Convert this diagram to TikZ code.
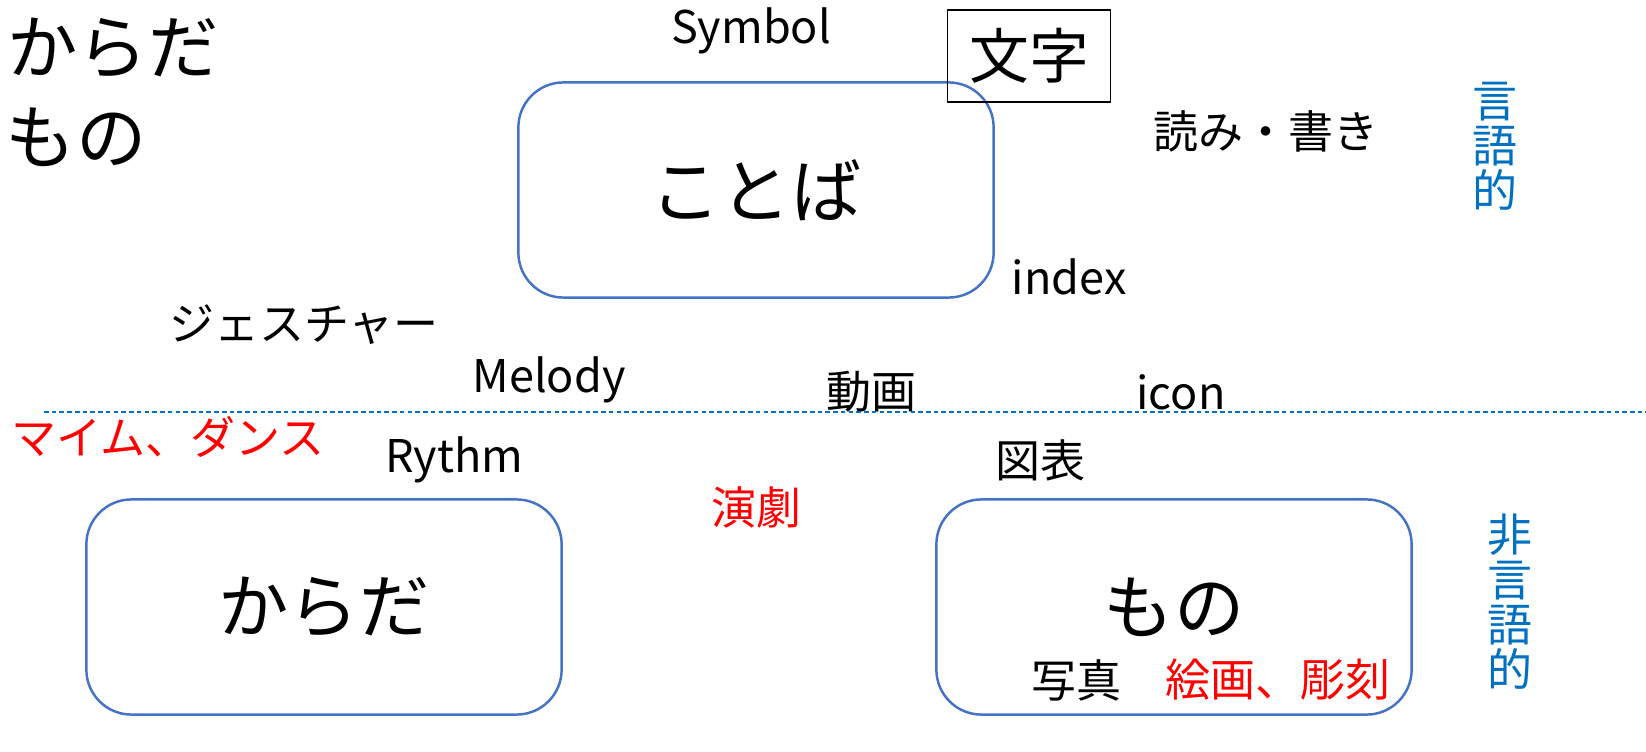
\documentclass[tikz,border=0pt]{standalone}
\usepackage{fontspec}
\setmainfont{Noto Sans CJK JP}
\usepackage{xcolor}
\usepackage{tikz}

\definecolor{boxblue}{HTML}{4472C4}
\definecolor{sideblue}{HTML}{0070C0}
\definecolor{artred}{HTML}{FF0000}

\begin{document}
\begin{tikzpicture}[x=0.01cm,y=-0.01cm,
		lbl/.style={inner sep=0pt, font=\fontsize{12.8}{12.8}\selectfont},
		big/.style={inner sep=0pt, font=\fontsize{20}{20}\selectfont},
		bluebox/.style={draw=boxblue, line width=0.7pt, rounded corners=0.45cm,
			minimum width=4.75cm, minimum height=2.15cm, big},
		side/.style={lbl, text=sideblue, align=center},
		hot/.style={lbl, text=artred}]
				\useasboundingbox (0,0) rectangle (1646,752);

				% three big boxes
				\node[bluebox] (kotoba) at (756,190) {ことば};
				\node[bluebox] (karadabox) at (324,607) {からだ};
				\node[bluebox] (monobox) at (1174,607) {もの};
				\node[draw, line width=0.5pt, minimum width=1.63cm, minimum height=0.92cm,
					font=\fontsize{17}{17}\selectfont] (moji) at (1029,56) {文字};

				% corner title
				\node[big] (karada) at (113,48) {からだ};
				\node[big] (mono) at (76,137) {もの};

				% upper half
				\node[lbl] (symbol) at (751,31) {Symbol};
				\node[lbl] (yomikaki) at (1266,131) {読み・書き};
				\node[lbl] (index) at (1069,277) {index};
				\node[lbl] (gesture) at (304,325) {ジェスチャー};
				\node[lbl] (melody) at (549,380) {Melody};
				\node[lbl] (douga) at (871,392) {動画};
				\node[lbl] (icon) at (1181,392) {icon};
				\node[side] (gengo) at (1495,146) {言\\語\\的};

				\draw[sideblue, line width=0.4pt, dash pattern=on 1.3pt off 0.9pt] (44,412) -- (1646,412);

				% lower half
				\node[hot] (mime) at (168,437) {マイム、ダンス};
				\node[lbl] (rythm) at (454,460) {Rythm};
				\node[lbl] (zuhyou) at (1040,460) {図表};
				\node[hot] (engeki) at (756,507) {演劇};
				\node[lbl] (shashin) at (1076,680) {写真};
				\node[hot] (kaiga) at (1278,680) {絵画、彫刻};
				\node[side] (higengo) at (1510,602) {非\\言\\語\\的};
\end{tikzpicture}
\end{document}
